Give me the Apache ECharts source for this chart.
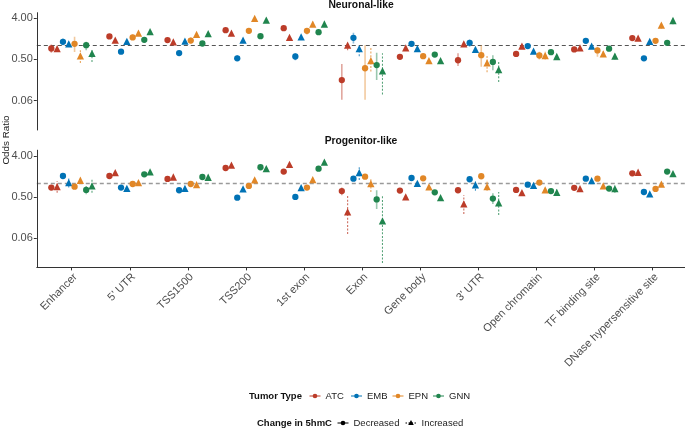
<!DOCTYPE html>
<html><head><meta charset="utf-8">
<script src="https://cdn.jsdelivr.net/npm/echarts@6/dist/echarts.min.js"></script>
<style>html,body{margin:0;padding:0;background:#fff}#c{width:685px;height:429px}</style>
</head><body><div id="c"></div><script>
const categories = ['Enhancer', "5' UTR", 'TSS1500', 'TSS200', '1st exon', 'Exon', 'Gene body', "3' UTR", 'Open chromatin', 'TF binding site', 'DNase hypersensitive site'];
const tumorTypes = ['ATC', 'EMB', 'EPN', 'GNN'];
const tumorColors = ['#BC3C29', '#0072B5', '#E18727', '#20854E'];
const changeTypes = ['Decreased', 'Increased'];
const yTickValues = [0.0625, 0.5, 4];
const panelTitles = ['Neuronal-like', 'Progenitor-like'];

// Neuronal-like odds ratios (per category)
const neuATCdec = [0.87, 1.60, 1.33, 2.20, 2.43, 0.176, 0.57, 0.48, 0.66, 0.83, 1.47];
const neuATCinc = [0.86, 1.33, 1.22, 1.89, 1.52, 1.03, 0.90, 1.10, 0.98, 0.90, 1.47];
const neuEMBdec = [1.22, 0.74, 0.69, 0.53, 0.58, 1.49, 1.10, 1.16, 0.98, 1.28, 0.53];
const neuEMBinc = [1.10, 1.24, 1.26, 1.33, 1.57, 0.86, 0.86, 0.83, 0.76, 0.98, 1.24];
const neuEPNdec = [1.10, 1.52, 1.30, 2.12, 2.12, 0.32, 0.59, 0.62, 0.61, 0.79, 1.28];
const neuEPNinc = [0.60, 1.89, 1.77, 4.00, 2.98, 0.47, 0.47, 0.42, 0.61, 0.66, 2.83];
const neuGNNdec = [1.03, 1.35, 1.12, 1.62, 1.98, 0.375, 0.64, 0.44, 0.72, 0.86, 1.16];
const neuGNNinc = [0.68, 2.05, 1.85, 3.65, 3.00, 0.28, 0.47, 0.30, 0.58, 0.59, 3.58];

// Progenitor-like odds ratios
const proATCdec = [0.80, 1.44, 1.24, 2.16, 1.80, 0.67, 0.69, 0.70, 0.71, 0.79, 1.65];
const proATCinc = [0.84, 1.71, 1.37, 2.50, 2.60, 0.235, 0.50, 0.35, 0.62, 0.76, 1.74];
const proEMBdec = [1.44, 0.80, 0.70, 0.48, 0.50, 1.26, 1.30, 1.22, 0.93, 1.26, 0.64];
const proEMBinc = [1.03, 0.77, 0.77, 0.75, 0.80, 1.71, 0.99, 0.92, 0.90, 1.14, 0.58];
const proEPNdec = [0.84, 0.96, 0.96, 0.87, 0.80, 1.39, 1.28, 1.42, 1.03, 1.26, 0.75];
const proEPNinc = [1.16, 1.03, 0.93, 1.18, 1.20, 0.98, 0.83, 0.84, 0.71, 0.87, 0.95];
const proGNNdec = [0.71, 1.57, 1.37, 2.24, 2.09, 0.44, 0.63, 0.46, 0.67, 0.76, 1.80];
const proGNNinc = [0.87, 1.77, 1.35, 2.09, 2.92, 0.149, 0.48, 0.37, 0.63, 0.76, 1.62];

// Confidence intervals: [tumor, change(0 dec / 1 inc), category index, low, high]
const neuIntervals = [
  ['ATC',0,0,0.70,1.07], ['EMB',0,0,1.03,1.44], ['EMB',1,0,0.95,1.22], ['EPN',0,0,0.73,1.57],
  ['EPN',1,0,0.42,0.80], ['GNN',0,0,0.80,1.22], ['GNN',1,0,0.44,0.80],
  ['EPN',0,1,1.33,1.76], ['EPN',1,1,1.70,2.10], ['EPN',0,2,1.12,1.52],
  ['EMB',0,3,0.47,0.62], ['EPN',0,3,1.85,2.46],
  ['EMB',0,4,0.48,0.68], ['EPN',0,4,1.77,2.46], ['EPN',1,4,2.60,3.35],
  ['ATC',0,5,0.065,0.395], ['ATC',1,5,0.80,1.12], ['EMB',0,5,1.12,1.92], ['EMB',1,5,0.59,1.03],
  ['EPN',0,5,0.065,1.03], ['EPN',1,5,0.27,0.90], ['GNN',0,5,0.176,0.70], ['GNN',1,5,0.085,0.68],
  ['ATC',0,7,0.36,0.68], ['ATC',1,7,0.98,1.22], ['EMB',0,7,0.95,1.37], ['EMB',1,7,0.70,0.95],
  ['EPN',0,7,0.345,1.03], ['EPN',1,7,0.26,0.62], ['GNN',0,7,0.29,0.62], ['GNN',1,7,0.16,0.48],
  ['EPN',0,8,0.50,0.74], ['EPN',1,8,0.50,0.74],
  ['EPN',0,9,0.57,0.95], ['EPN',1,9,0.57,0.80], ['GNN',1,9,0.50,0.68],
  ['EPN',1,10,2.38,3.17], ['GNN',1,10,2.98,4.17]
];
const proIntervals = [
  ['ATC',1,0,0.62,1.12], ['EMB',1,0,0.80,1.32], ['GNN',0,0,0.57,0.87], ['GNN',1,0,0.62,1.22],
  ['ATC',0,5,0.54,0.80], ['ATC',1,5,0.076,0.54], ['EMB',1,5,1.18,2.30], ['EPN',1,5,0.64,1.32],
  ['GNN',0,5,0.27,0.70], ['GNN',1,5,0.0175,0.54],
  ['ATC',1,7,0.21,0.54], ['EMB',1,7,0.68,1.18], ['EPN',1,7,0.68,1.07], ['GNN',0,7,0.35,0.60], ['GNN',1,7,0.20,0.64],
  ['GNN',1,8,0.55,0.74], ['GNN',1,9,0.62,0.90]
];

const panelValues = [
  { ATC: [neuATCdec, neuATCinc], EMB: [neuEMBdec, neuEMBinc], EPN: [neuEPNdec, neuEPNinc], GNN: [neuGNNdec, neuGNNinc] },
  { ATC: [proATCdec, proATCinc], EMB: [proEMBdec, proEMBinc], EPN: [proEPNdec, proEPNinc], GNN: [proGNNdec, proGNNinc] }
];
const panelIntervals = [neuIntervals, proIntervals];

const FONT = '"Liberation Sans", Arial, Helvetica, sans-serif';
const slotOffset = (t, d) => ((t * 2 + d) - 3.5) * 0.1;
const lg = v => Math.log2(v);

function hexA(hex, a) {
  const r = parseInt(hex.slice(1, 3), 16), g = parseInt(hex.slice(3, 5), 16), b = parseInt(hex.slice(5, 7), 16);
  return `rgba(${r},${g},${b},${a})`;
}

const series = [];
for (let p = 0; p < 2; p++) {
  // error bars
  series.push({
    type: 'custom', xAxisIndex: p, yAxisIndex: p, z: 1, clip: true, silent: true,
    encode: { x: 0, y: [1, 2] },
    data: panelIntervals[p].map(e => {
      const t = tumorTypes.indexOf(e[0]);
      return [e[2] + 1 + slotOffset(t, e[1]), lg(e[3]), lg(e[4]), e[1], t];
    }),
    renderItem: (params, api) => {
      const x = api.value(0);
      const a = api.coord([x, api.value(1)]);
      const b = api.coord([x, api.value(2)]);
      const dashed = api.value(3) === 1;
      const col = tumorColors[api.value(4)];
      return {
        type: 'line',
        shape: { x1: a[0], y1: a[1], x2: b[0], y2: b[1] },
        style: { stroke: hexA(col, dashed ? 0.75 : 0.45), lineWidth: dashed ? 1.1 : 1.6, lineDash: dashed ? [2, 1.6] : null }
      };
    }
  });
  tumorTypes.forEach((tt, t) => {
    [0, 1].forEach(d => {
      const vals = panelValues[p][tt][d];
      const s = {
        type: 'scatter', name: tt, xAxisIndex: p, yAxisIndex: p, z: 3, silent: true,
        symbol: d === 0 ? 'circle' : 'triangle',
        symbolSize: d === 0 ? 6.3 : 7.3,
        itemStyle: { color: tumorColors[t], opacity: 1 },
        data: vals.map((v, i) => [i + 1 + slotOffset(t, d), lg(v)])
      };
      if (t === 0 && d === 0) {
        s.markLine = {
          silent: true, symbol: 'none', label: { show: false }, z: 0,
          lineStyle: { type: [4, 3], color: p === 0 ? '#555' : '#9a9a9a', width: p === 0 ? 1 : 1.3 },
          data: [{ yAxis: 0 }]
        };
      }
      series.push(s);
    });
  });
}

const yCustom = yTickValues.map(lg);
const yAxisCommon = {
  type: 'value', min: -6.15, max: 2.41,
  axisLine: { show: true, onZero: false, lineStyle: { color: '#333', width: 1 } },
  axisTick: { show: true, length: 3, customValues: yCustom, lineStyle: { color: '#333' } },
  axisLabel: { customValues: yCustom, formatter: v => Math.pow(2, v).toFixed(2), fontSize: 11, color: '#4D4D4D', fontFamily: FONT, margin: 4 },
  splitLine: { show: false }
};
const catTicks = categories.map((c, i) => i + 1);

const legendGraphics = [];
function txt(x, y, s, bold) {
  legendGraphics.push({ type: 'text', x, y, style: { text: s, fontSize: 9.5, fontWeight: bold ? 'bold' : 'normal', fontFamily: FONT, fill: bold ? '#111' : '#222', textVerticalAlign: 'middle', textAlign: 'left' } });
}
function glyph(cx, cy, color, symbol, dashed) {
  legendGraphics.push({ type: 'line', shape: { x1: cx - 5.5, y1: cy, x2: cx + 5.5, y2: cy }, style: { stroke: color, lineWidth: 1, lineDash: dashed ? [1.5, 1.5] : null } });
  if (symbol === 'circle') legendGraphics.push({ type: 'circle', shape: { cx, cy, r: 2.3 }, style: { fill: color } });
  else legendGraphics.push({ type: 'polygon', shape: { points: [[cx, cy - 3], [cx - 2.8, cy + 2], [cx + 2.8, cy + 2]] }, style: { fill: color } });
}
txt(249, 396, 'Tumor Type', true);
const ttX = [315, 356.5, 398, 438.5];
tumorTypes.forEach((tt, i) => { glyph(ttX[i], 396, tumorColors[i], 'circle', false); txt(ttX[i] + 10.5, 396, tt, false); });
txt(257, 423, 'Change in 5hmC', true);
glyph(343, 423, '#000', 'circle', false); txt(353.5, 423, changeTypes[0], false);
glyph(411, 423, '#000', 'triangle', true); txt(421.5, 423, changeTypes[1], false);
legendGraphics.push({ type: 'text', x: 6, y: 140, rotation: Math.PI / 2, style: { text: 'Odds Ratio', fontSize: 9.8, fontFamily: FONT, fill: '#222', textAlign: 'center', textVerticalAlign: 'middle' } });

const option = {
  animation: false,
  backgroundColor: '#fff',
  title: panelTitles.map((t, i) => ({
    text: t, left: 361, top: i === 0 ? 0.5 : 136.5, textAlign: 'center', padding: 0,
    textStyle: { fontSize: 10.3, fontWeight: 'bold', color: '#111', fontFamily: FONT }
  })),
  grid: [
    { left: 36.8, top: 12.7, width: 650.7, height: 117.3, containLabel: false, outerBoundsMode: 'none' },
    { left: 36.8, top: 150.2, width: 650.7, height: 117.2, containLabel: false, outerBoundsMode: 'none' }
  ],
  xAxis: [
    { type: 'value', gridIndex: 0, min: 0.4, max: 11.6, show: false, splitLine: { show: false } },
    {
      type: 'value', gridIndex: 1, min: 0.4, max: 11.6,
      axisLine: { show: true, onZero: false, lineStyle: { color: '#333', width: 1 } },
      axisTick: { show: true, length: 3, customValues: catTicks, lineStyle: { color: '#333' } },
      axisLabel: { customValues: catTicks, formatter: v => categories[Math.round(v) - 1], rotate: 45, align: 'right', verticalAlign: 'top', fontSize: 11, color: '#4D4D4D', fontFamily: FONT, margin: 4 },
      splitLine: { show: false }
    }
  ],
  yAxis: [Object.assign({ gridIndex: 0 }, yAxisCommon), Object.assign({ gridIndex: 1 }, yAxisCommon)],
  graphic: legendGraphics,
  series
};
const chart = echarts.init(document.getElementById('c'), null, { renderer: 'canvas' });
chart.setOption(option);
</script></body></html>
